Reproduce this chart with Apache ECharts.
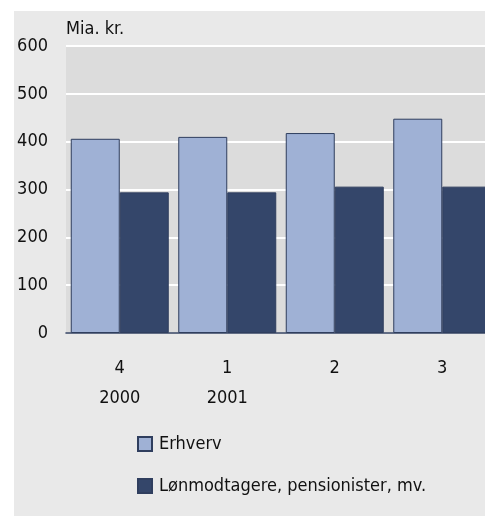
<!DOCTYPE html>
<html>
<head>
<meta charset="utf-8">
<script src="https://cdn.jsdelivr.net/npm/echarts@6/dist/echarts.min.js"></script>
<style>html,body{margin:0;padding:0;background:#fff;overflow:hidden;width:485px;height:516px;}#wrap{width:485px;height:516px;overflow:hidden;}#c{width:500px;height:516px;}</style>
</head>
<body>
<div id="wrap"><div id="c"></div></div>
<script>
var categories = ['4\n2000', '1\n2001', '2', '3'];
var seriesNames = ['Erhverv', 'Lønmodtagere, pensionister, mv.'];
var erhverv = [406, 410, 418, 448];
var loenmodtagere = [294, 294, 306, 306];
var unitLabel = 'Mia. kr.';

var FONT = 'DejaVu Sans Condensed, Liberation Sans Narrow, sans-serif';
var chart = echarts.init(document.getElementById('c'), null, {renderer: 'canvas'});
chart.setOption({
  backgroundColor: '#ffffff',
  animation: false,
  graphic: [
    {type: 'rect', z: -10, shape: {x: 14, y: 11, width: 500, height: 520}, style: {fill: '#e9e9e9'}},
    {type: 'text', left: 66, top: 20, style: {text: unitLabel, font: '18px ' + FONT, fill: '#111'}}
  ],
  grid: {left: 66, top: 46, width: 430, height: 287, show: true, backgroundColor: '#dcdcdc', borderWidth: 0, containLabel: false},
  legend: {
    orient: 'vertical', left: 137, top: 435, padding: 0, itemWidth: 14, itemHeight: 14, itemGap: 24,
    icon: 'rect',
    textStyle: {fontFamily: FONT, fontSize: 18, color: '#111', padding: [0,0,0,2]},
    data: seriesNames
  },
  xAxis: {
    type: 'category', data: categories,
    axisLine: {lineStyle: {color: '#2f3e5e', width: 1.5}},
    axisTick: {show: false},
    axisLabel: {fontFamily: FONT, fontSize: 18, color: '#111', lineHeight: 30, margin: 20}
  },
  yAxis: {
    type: 'value', min: 0, max: 600, interval: 100,
    axisLine: {show: false}, axisTick: {show: false},
    axisLabel: {fontFamily: FONT, fontSize: 18, color: '#111', margin: 18},
    splitLine: {lineStyle: {color: '#ffffff', width: 2}}
  },
  series: [
    {name: seriesNames[0], type: 'bar', data: erhverv, barWidth: 49, barGap: '0%',
     itemStyle: {color: '#9fb1d5', borderColor: '#2f3e5e', borderWidth: 1}},
    {name: seriesNames[1], type: 'bar', data: loenmodtagere, barWidth: 49,
     itemStyle: {color: '#34466a', borderColor: '#2f3e5e', borderWidth: 1}}
  ]
});
</script>
</body>
</html>
